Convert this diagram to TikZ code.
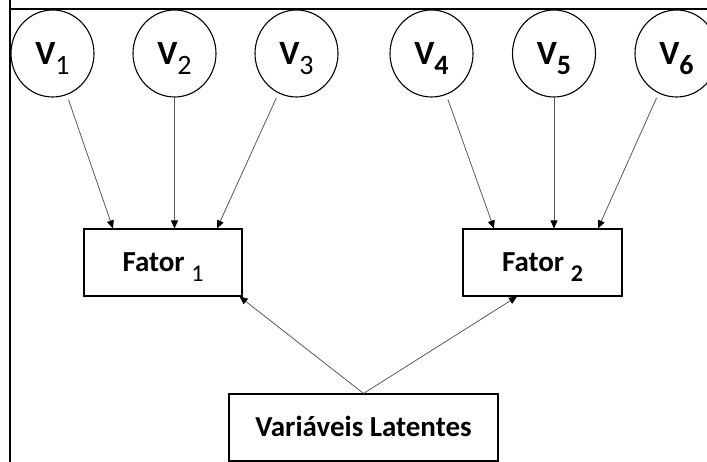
\documentclass[tikz,border=0pt]{standalone}
\usepackage{fontspec}
\setmainfont{Carlito}
\usetikzlibrary{arrows.meta,shapes.geometric}

% subscripts: regular and bold, dropped below the baseline
\newcommand\subreg[2][23]{\raisebox{-10pt}{\fontsize{#1}{#1}\mdseries\selectfont #2}}
\newcommand\subbold[2][23]{\raisebox{-10pt}{\fontsize{#1}{#1}\bfseries\selectfont #2}}

\tikzset{
  varnode/.style={draw, line width=1.1pt, ellipse, minimum width=83pt, minimum height=87pt,
    inner sep=0pt, text height=31.6pt, text depth=10pt,
    font=\fontsize{34}{34}\bfseries\selectfont},
  factorbox/.style={draw, line width=1.1pt, rectangle, minimum width=158pt, minimum height=67pt,
    inner sep=0pt, text height=28.4pt, text depth=10pt,
    font=\fontsize{29}{29}\bfseries\selectfont},
  latentbox/.style={draw, line width=1.1pt, rectangle, minimum width=269pt, minimum height=67pt,
    inner sep=0pt, text height=17pt, text depth=0pt,
    font=\fontsize{29}{29}\bfseries\selectfont},
  link/.style={draw=black!65, line width=0.8pt,
    -{Triangle[length=8pt,width=7pt,color=black]}},
  gapstart/.style={shorten <=5pt},
  frameline/.style={line width=2pt, black}
}

\begin{document}
\begin{tikzpicture}[x=1pt,y=-1pt]
  \useasboundingbox (0,0) rectangle (707,462);
  \clip (0,0) rectangle (707,462);

  % outer frame (top and left edges)
  \draw[frameline] (9.5,-5) -- (9.5,9.5) -- (720,9.5);
  \draw[frameline] (9.5,9.5) -- (9.5,470);

  % observed variables
  \node[varnode] (v1) at (52.5,53.5) {V\subreg[28]{1}};
  \node[varnode] (v2) at (174.5,53.5) {V\subreg[28]{2}};
  \node[varnode] (v3) at (296.5,53.5) {V\subreg[28]{3}};
  \node[varnode] (v4) at (431.5,53.5) {V\subbold[28]{4}};
  \node[varnode] (v5) at (554,53.5) {V\subbold[28]{5}};
  \node[varnode] (v6) at (676.5,53.5) {V\subbold[28]{6}};

  % factors
  \node[factorbox] (f1) at (163,262.5) {Fator \subreg[24]{1}};
  \node[factorbox, minimum width=159pt] (f2) at (542.5,262.5) {Fator \subbold[24]{2}};

  % latent variables
  \node[latentbox] (lat) at (363.5,427.5) {Variáveis Latentes};

  % loadings onto factor 1
  \draw[link, gapstart] (v1) -- ([xshift=-50pt]f1.north);
  \draw[link] (v2) -- (v2 |- f1.north);
  \draw[link, gapstart] (v3) -- ([xshift=54pt]f1.north);

  % loadings onto factor 2
  \draw[link, gapstart] (v4) -- ([xshift=-48.5pt]f2.north);
  \draw[link] (v5) -- (v5 |- f2.north);
  \draw[link, gapstart] (v6) -- ([xshift=55.5pt]f2.north);

  % latent variables to factors
  \draw[link] (lat.north) -- ([xshift=-3pt]f1.south east);
  \draw[link] (lat.north) -- ([xshift=-25.5pt]f2.south);
\end{tikzpicture}
\end{document}
